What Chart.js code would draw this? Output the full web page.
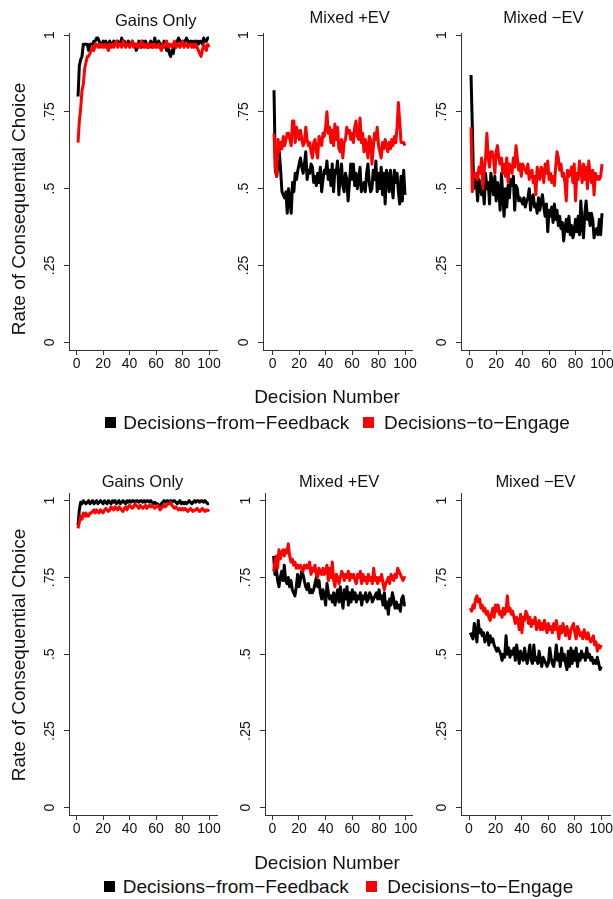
<!DOCTYPE html>
<html>
<head>
<meta charset="utf-8">
<title>Rate of Consequential Choice</title>
<script src="https://cdn.jsdelivr.net/npm/chart.js@4.4.1/dist/chart.umd.min.js"></script>
<style>
  html, body { margin: 0; padding: 0; background: #fff; overflow: hidden; }
  #page {
    position: relative; width: 613px; height: 899px; overflow: hidden;
    font-family: "Liberation Sans", Arial, sans-serif; color: #111;
  }
  .box { position: absolute; }
  .lbl { position: absolute; white-space: nowrap; transform: translate(-50%, -50%); line-height: 1; }
  .ptitle { font-size: 16.5px; }
  .ytitle { font-size: 19px; transform: translate(-50%, -50%) rotate(-90deg); }
  .xtitle { font-size: 19px; }
  .legtext { position: absolute; white-space: nowrap; font-size: 19px; line-height: 1; transform: translateY(-50%); }
  .swatch { position: absolute; width: 11px; height: 11px; }
</style>
</head>
<body>
<div id="page"></div>
<script>
// ---- data ----
const decisions = [
  1, 2, 3, 4, 5, 6, 7, 8, 9, 10,
  11, 12, 13, 14, 15, 16, 17, 18, 19, 20,
  21, 22, 23, 24, 25, 26, 27, 28, 29, 30,
  31, 32, 33, 34, 35, 36, 37, 38, 39, 40,
  41, 42, 43, 44, 45, 46, 47, 48, 49, 50,
  51, 52, 53, 54, 55, 56, 57, 58, 59, 60,
  61, 62, 63, 64, 65, 66, 67, 68, 69, 70,
  71, 72, 73, 74, 75, 76, 77, 78, 79, 80,
  81, 82, 83, 84, 85, 86, 87, 88, 89, 90,
  91, 92, 93, 94, 95, 96, 97, 98, 99, 100
];
const xTicks = [0, 20, 40, 60, 80, 100];
const yTicks = [0, 0.25, 0.5, 0.75, 1];
const seriesNames = ['Decisions\u2212from\u2212Feedback', 'Decisions\u2212to\u2212Engage'];
const panelTitles = ['Gains Only', 'Mixed +EV', 'Mixed \u2212EV'];

// top figure
const gainsFeedbackTop = [
  .80, .90, .92, .93, .97, .97, .97, .97, .95, .97,
  .97, .97, .98, .98, .99, .99, .98, .97, .97, .98,
  .97, .98, .96, .97, .98, .97, .97, .98, .97, .97,
  .98, .97, .97, .99, .97, .98, .97, .97, .98, .97,
  .97, .98, .97, .97, .95, .96, .98, .97, .96, .98,
  .97, .98, .97, .96, .97, .98, .96, .97, .99, .97,
  .97, .98, .97, .97, .96, .98, .97, .95, .96, .94,
  .93, .95, .94, .97, .96, .98, .99, .98, .98, .97,
  .98, .98, .99, .98, .97, .98, .98, .97, .98, .97,
  .98, .97, .98, .98, .97, .99, .98, .98, .99, .99
];
const gainsEngageTop = [
  .65, .72, .76, .82, .84, .89, .91, .93, .93, .94,
  .95, .96, .95, .97, .97, .96, .97, .96, .97, .96,
  .96, .97, .96, .95, .97, .96, .97, .96, .97, .98,
  .96, .97, .97, .96, .98, .97, .96, .97, .97, .96,
  .97, .98, .96, .97, .97, .96, .97, .96, .98, .97,
  .96, .97, .96, .97, .96, .97, .97, .96, .97, .96,
  .96, .97, .96, .95, .97, .96, .97, .98, .96, .97,
  .97, .96, .97, .98, .96, .97, .97, .96, .97, .98,
  .96, .97, .97, .96, .97, .97, .96, .97, .96, .97,
  .96, .95, .94, .93, .95, .97, .96, .95, .97, .96
];
const posFeedbackTop = [
  .82, .56, .54, .58, .62, .56, .49, .48, .47, .49,
  .42, .50, .46, .42, .52, .49, .55, .53, .56, .58,
  .60, .57, .55, .58, .62, .53, .56, .55, .58, .57,
  .52, .54, .51, .55, .52, .57, .49, .53, .56, .55,
  .59, .53, .56, .51, .58, .49, .56, .55, .59, .48,
  .54, .58, .51, .49, .55, .53, .46, .52, .58, .53,
  .58, .51, .55, .50, .53, .57, .49, .50, .52, .49,
  .55, .58, .52, .49, .50, .56, .53, .59, .49, .55,
  .50, .57, .48, .55, .45, .56, .54, .49, .56, .51,
  .47, .56, .52, .55, .49, .45, .54, .46, .56, .48
];
const posEngageTop = [
  .68, .57, .54, .66, .62, .65, .63, .67, .64, .66,
  .68, .68, .66, .64, .72, .72, .65, .70, .68, .66,
  .69, .66, .64, .65, .70, .66, .64, .65, .62, .60,
  .65, .66, .62, .60, .67, .66, .64, .68, .67, .70,
  .75, .68, .70, .65, .69, .64, .71, .66, .70, .63,
  .62, .66, .60, .65, .66, .70, .68, .69, .66, .68,
  .65, .70, .72, .67, .66, .73, .65, .68, .62, .66,
  .64, .60, .67, .66, .58, .63, .68, .66, .70, .64,
  .62, .60, .65, .63, .66, .64, .62, .65, .63, .66,
  .64, .67, .65, .70, .78, .72, .65, .65, .65, .64
];
const negFeedbackTop = [
  .87, .70, .50, .53, .52, .46, .53, .51, .48, .50,
  .45, .55, .50, .52, .45, .55, .52, .48, .54, .46,
  .52, .50, .43, .55, .48, .41, .50, .44, .51, .47,
  .53, .51, .54, .43, .51, .50, .46, .47, .46, .45,
  .47, .44, .46, .47, .50, .43, .47, .48, .44, .45,
  .42, .47, .43, .46, .48, .44, .41, .45, .36, .43,
  .41, .44, .39, .45, .40, .43, .38, .41, .37, .39,
  .33, .37, .40, .36, .41, .35, .38, .34, .36, .40,
  .36, .41, .35, .46, .38, .34, .42, .46, .40, .42,
  .38, .42, .40, .34, .36, .37, .35, .40, .35, .42
];
const negEngageTop = [
  .70, .49, .55, .54, .55, .53, .57, .55, .60, .50,
  .56, .60, .68, .60, .57, .62, .62, .60, .55, .62,
  .64, .60, .58, .60, .55, .58, .54, .60, .52, .58,
  .57, .55, .60, .57, .64, .60, .56, .58, .54, .58,
  .57, .56, .55, .58, .53, .55, .56, .52, .54, .48,
  .57, .55, .53, .57, .56, .52, .58, .55, .59, .53,
  .55, .52, .54, .51, .57, .62, .60, .56, .58, .54,
  .55, .52, .46, .56, .54, .55, .57, .52, .58, .46,
  .55, .53, .59, .56, .52, .58, .53, .57, .50, .59,
  .55, .52, .56, .48, .55, .53, .54, .53, .54, .58
];

// bottom figure
const gainsFeedbackBottom = [
  .92, .97, .995, .99, 1.0, .995, .99, .995, 1.0, .99,
  .995, 1.0, .99, .995, 1.0, .99, .995, 1.0, .995, .99,
  1.0, .995, .99, 1.0, .995, .99, 1.0, .995, 1.0, .99,
  .995, 1.0, .99, .995, 1.0, .995, .99, 1.0, .995, 1.0,
  .995, 1.0, 1.0, .995, 1.0, 1.0, .995, 1.0, 1.0, .995,
  1.0, .995, 1.0, 1.0, .995, 1.0, .995, .99, .995, .99,
  .99, .985, .985, .99, .995, 1.0, .995, 1.0, 1.0, .995,
  1.0, .995, 1.0, 1.0, .995, .99, .995, 1.0, .99, .995,
  .99, .995, .99, .995, 1.0, .995, .99, .995, 1.0, .995,
  1.0, 1.0, .995, 1.0, 1.0, .995, 1.0, .995, .99, .99
];
const gainsEngageBottom = [
  .91, .93, .95, .94, .96, .95, .96, .95, .95, .96,
  .96, .965, .97, .96, .97, .965, .96, .97, .965, .96,
  .97, .975, .97, .965, .97, .98, .975, .97, .98, .975,
  .97, .98, .975, .97, .965, .975, .98, .97, .98, .985,
  .98, .975, .98, .99, .985, .98, .975, .985, .98, .975,
  .98, .985, .975, .98, .985, .98, .985, .98, .975, .98,
  .985, .98, .97, .975, .98, .985, .98, .985, .99, .99,
  .995, .985, .98, .975, .98, .975, .97, .975, .97, .975,
  .97, .975, .97, .965, .97, .975, .97, .965, .97, .97,
  .975, .97, .965, .97, .975, .97, .965, .97, .97, .965
];
const posFeedbackBottom = [
  .82, .76, .78, .74, .72, .75, .77, .74, .79, .74,
  .73, .75, .72, .74, .71, .70, .69, .72, .76, .72,
  .74, .77, .76, .74, .72, .71, .73, .70, .71, .70,
  .71, .73, .75, .72, .74, .70, .68, .71, .69, .66,
  .73, .70, .68, .69, .67, .70, .66, .69, .71, .67,
  .72, .68, .65, .71, .68, .72, .66, .70, .67, .71,
  .68, .70, .67, .69, .68, .70, .66, .69, .68, .70,
  .67, .68, .70, .69, .67, .68, .69, .70, .68, .71,
  .68, .69, .66, .70, .65, .67, .63, .68, .66, .70,
  .68, .65, .67, .65, .66, .64, .68, .69, .66, .66
];
const posEngageBottom = [
  .77, .80, .82, .78, .84, .81, .83, .84, .82, .84,
  .83, .86, .82, .80, .81, .79, .80, .78, .79, .78,
  .79, .78, .77, .79, .78, .79, .78, .80, .76, .78,
  .77, .79, .76, .75, .78, .77, .76, .78, .76, .77,
  .79, .74, .78, .75, .80, .74, .72, .76, .75, .73,
  .75, .77, .76, .74, .76, .75, .77, .74, .76, .75,
  .76, .74, .73, .76, .75, .77, .73, .76, .74, .75,
  .73, .76, .74, .75, .73, .78, .74, .75, .73, .75,
  .74, .76, .73, .71, .73, .74, .75, .73, .76, .75,
  .74, .76, .75, .78, .77, .76, .75, .74, .75, .75
];
const negFeedbackBottom = [
  .57, .56, .55, .60, .57, .54, .61, .57, .58, .56,
  .57, .54, .55, .57, .53, .56, .54, .55, .53, .52,
  .51, .52, .51, .50, .48, .50, .49, .56, .50, .52,
  .49, .51, .50, .52, .48, .53, .50, .47, .51, .49,
  .48, .52, .49, .47, .50, .53, .48, .47, .53, .48,
  .49, .47, .51, .48, .46, .49, .48, .47, .46, .47,
  .52, .49, .47, .46, .49, .53, .48, .50, .46, .52,
  .48, .50, .47, .45, .51, .46, .52, .47, .51, .48,
  .52, .46, .50, .48, .51, .49, .50, .48, .52, .49,
  .50, .48, .49, .47, .48, .47, .49, .47, .45, .46
];
const negEngageBottom = [
  .65, .64, .66, .65, .68, .69, .67, .68, .65, .66,
  .64, .65, .63, .64, .62, .61, .63, .65, .62, .66,
  .64, .66, .63, .64, .62, .65, .63, .64, .69, .64,
  .65, .63, .64, .62, .60, .62, .61, .58, .63, .57,
  .62, .61, .64, .63, .60, .62, .59, .61, .60, .62,
  .58, .59, .61, .58, .60, .58, .61, .59, .57, .60,
  .58, .59, .57, .60, .58, .61, .58, .55, .59, .57,
  .60, .58, .56, .59, .57, .55, .58, .59, .60, .57,
  .55, .59, .58, .56, .57, .55, .58, .56, .55, .57,
  .55, .54, .55, .56, .53, .54, .51, .53, .52, .53
];

// ---- layout ----
const FONT = '"Liberation Sans", Arial, sans-serif';
const YW = 45, XH = 28, PT = 20, PR = 15;

const rows = [
  { top: 33, bottom: 350, y0: 342.3, y1: 35, ytitle: [18, 208.5], xtitle: 395.7, legend: { y: 422, sq: [105, 363], tx: [123.3, 384] } },
  { top: 493, bottom: 815, y0: 807.7, y1: 500.7, ytitle: [18, 655], xtitle: 861.7, legend: { y: 886, sq: [104, 366], tx: [122.7, 387.3] } }
];

const panels = [
  { row: 0, title: panelTitles[0], fb: gainsFeedbackTop, en: gainsEngageTop, axisL: 69, axisR: 217, x0: 76.7, x100: 209, tx: 155.7, ty: 19.5 },
  { row: 0, title: panelTitles[1], fb: posFeedbackTop, en: posEngageTop, axisL: 263, axisR: 412, x0: 272.7, x100: 405, tx: 349.7, ty: 17 },
  { row: 0, title: panelTitles[2], fb: negFeedbackTop, en: negEngageTop, axisL: 461, axisR: 610, x0: 469.7, x100: 602, tx: 543.3, ty: 17 },
  { row: 1, title: panelTitles[0], fb: gainsFeedbackBottom, en: gainsEngageBottom, axisL: 69, axisR: 217, x0: 76.7, x100: 209, tx: 142.5, ty: 480.8 },
  { row: 1, title: panelTitles[1], fb: posFeedbackBottom, en: posEngageBottom, axisL: 265, axisR: 412, x0: 272.3, x100: 405.7, tx: 339.2, ty: 480.8 },
  { row: 1, title: panelTitles[2], fb: negFeedbackBottom, en: negEngageBottom, axisL: 461, axisR: 610, x0: 469, x100: 601.3, tx: 535.5, ty: 480.8 }
];

const page = document.getElementById('page');

function addLabel(cls, text, x, y) {
  const el = document.createElement('div');
  el.className = cls;
  el.textContent = text;
  el.style.left = x + 'px';
  el.style.top = y + 'px';
  page.appendChild(el);
  return el;
}

function fmtY(v) {
  if (v === 0 || v === 1) return String(v);
  return String(v).replace(/^0/, '');
}

function makePanel(p) {
  const r = rows[p.row];
  const sx = (p.x100 - p.x0) / 100;
  const sy = r.y0 - r.y1;
  const w = YW + (p.axisR - p.axisL) + PR;
  const h = PT + (r.bottom - r.top) + XH;

  const box = document.createElement('div');
  box.className = 'box';
  box.style.left = (p.axisL - YW) + 'px';
  box.style.top = (r.top - PT) + 'px';
  box.style.width = w + 'px';
  box.style.height = h + 'px';
  const cv = document.createElement('canvas');
  box.appendChild(cv);
  page.appendChild(box);

  const axisColor = '#333';
  new Chart(cv, {
    type: 'line',
    data: {
      datasets: [
        {
          label: seriesNames[0],
          data: decisions.map((d, i) => ({ x: d, y: p.fb[i] })),
          borderColor: '#000',
          order: 2
        },
        {
          label: seriesNames[1],
          data: decisions.map((d, i) => ({ x: d, y: p.en[i] })),
          borderColor: '#ff0000',
          order: 1
        }
      ]
    },
    options: {
      responsive: true,
      maintainAspectRatio: false,
      animation: false,
      layout: { padding: { top: PT, right: PR, left: 0, bottom: 0 } },
      plugins: { legend: { display: false }, tooltip: { enabled: false } },
      elements: {
        point: { radius: 0 },
        line: { borderWidth: 3, tension: 0, borderJoinStyle: 'round', fill: false }
      },
      scales: {
        x: {
          type: 'linear',
          min: -(p.x0 - p.axisL) / sx,
          max: (p.axisR - p.x0) / sx,
          afterBuildTicks: s => { s.ticks = xTicks.map(v => ({ value: v })); },
          afterFit: s => { s.height = XH; },
          grid: { drawOnChartArea: false, drawTicks: true, tickLength: 5, color: axisColor },
          border: { display: true, color: axisColor, width: 1 },
          ticks: {
            padding: 1, color: '#111', autoSkip: false, maxRotation: 0,
            font: { family: FONT, size: 14 },
            callback: v => String(v)
          }
        },
        y: {
          type: 'linear',
          min: -(r.bottom - r.y0) / sy,
          max: (r.y0 - r.top) / sy,
          afterBuildTicks: s => { s.ticks = yTicks.map(v => ({ value: v })); },
          afterFit: s => { s.width = YW; },
          grid: { drawOnChartArea: false, drawTicks: true, tickLength: 5, color: axisColor },
          border: { display: true, color: axisColor, width: 1 },
          ticks: {
            padding: 4, color: '#111', autoSkip: false,
            minRotation: 90, maxRotation: 90, crossAlign: 'center',
            font: { family: FONT, size: 14 },
            callback: v => fmtY(v)
          }
        }
      }
    }
  });

  addLabel('lbl ptitle', p.title, p.tx, p.ty);
}

panels.forEach(makePanel);

rows.forEach(r => {
  addLabel('lbl ytitle', 'Rate of Consequential Choice', r.ytitle[0], r.ytitle[1]);
  addLabel('lbl xtitle', 'Decision Number', 327, r.xtitle);
  const colors = ['#000', '#ff0000'];
  seriesNames.forEach((name, i) => {
    const sq = document.createElement('div');
    sq.className = 'swatch';
    sq.style.background = colors[i];
    sq.style.left = r.legend.sq[i] + 'px';
    sq.style.top = (r.legend.y - 5.5) + 'px';
    page.appendChild(sq);
    addLabel('legtext', name, r.legend.tx[i], r.legend.y);
  });
});
</script>
</body>
</html>
